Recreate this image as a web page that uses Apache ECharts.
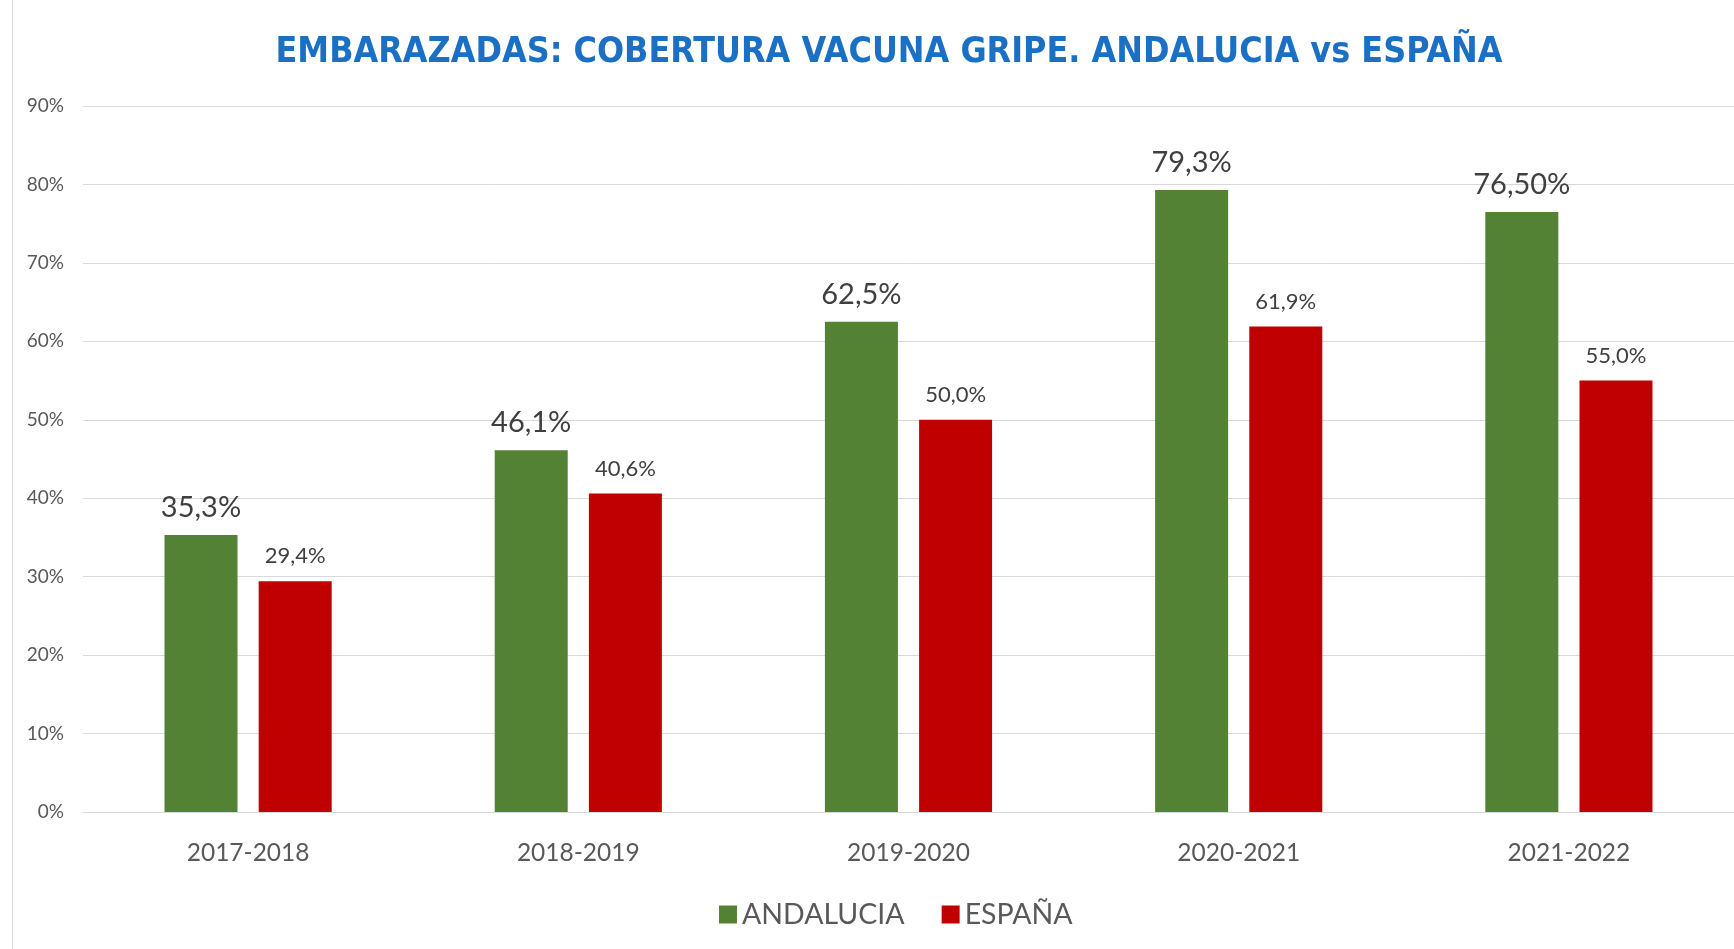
<!DOCTYPE html>
<html>
<head>
<meta charset="utf-8">
<script src="https://cdn.jsdelivr.net/npm/echarts@6/dist/echarts.min.js"></script>
<style>
  html, body { margin: 0; padding: 0; background: #fff; }
  #main { width: 1734px; height: 949px; }
</style>
</head>
<body>
<div id="main"></div>
<script>
  // temporadas
  const seasons = ['2017-2018', '2018-2019', '2019-2020', '2020-2021', '2021-2022'];
  // cobertura (%)
  const andalucia = [35.3, 46.1, 62.5, 79.3, 76.5];
  const espana = [29.4, 40.6, 50.0, 61.9, 55.0];
  // etiquetas tal como aparecen
  const andaluciaLabels = ['35,3%', '46,1%', '62,5%', '79,3%', '76,50%'];
  const espanaLabels = ['29,4%', '40,6%', '50,0%', '61,9%', '55,0%'];
  const yTicks = [0, 10, 20, 30, 40, 50, 60, 70, 80, 90];

  const font = 'Lato, "Open Sans", sans-serif';
  let myChart = echarts.init(document.getElementById('main'));
  let option = {
    animation: false,
    title: {
      text: 'EMBARAZADAS: COBERTURA VACUNA GRIPE. ANDALUCIA vs ESPAÑA',
      left: 884,
      textAlign: 'center',
      top: 30,
      textStyle: {
        fontFamily: '"DejaVu Sans Condensed", "Open Sans", sans-serif',
        fontWeight: 'bold',
        fontSize: 35.5,
        color: '#1B70C4'
      }
    },
    legend: {
      data: ['ANDALUCIA', 'ESPAÑA'],
      left: 714,
      top: 895,
      itemWidth: 18,
      itemHeight: 18,
      itemGap: 37,
      icon: 'rect',
      textStyle: { fontFamily: font, fontSize: 28.5, color: '#595959' }
    },
    grid: { left: 83, top: 106, width: 1659, height: 706 },
    graphic: [{
      type: 'line',
      shape: { x1: 12.5, y1: 0, x2: 12.5, y2: 949 },
      style: { stroke: '#d9d9d9', lineWidth: 1 }
    }],
    xAxis: {
      type: 'category',
      data: seasons,
      axisTick: { show: false },
      axisLine: { lineStyle: { color: '#d9d9d9' } },
      axisLabel: { fontFamily: font, fontSize: 24.5, color: '#595959', margin: 29 }
    },
    yAxis: {
      type: 'value',
      min: yTicks[0],
      max: yTicks[yTicks.length - 1],
      interval: 10,
      axisLabel: {
        fontFamily: font, fontSize: 19, color: '#595959', margin: 19,
        formatter: v => v + '%'
      },
      splitLine: { lineStyle: { color: '#d9d9d9' } }
    },
    series: [
      {
        name: 'ANDALUCIA',
        type: 'bar',
        data: andalucia,
        barWidth: 73,
        barGap: '29%',
        itemStyle: { color: '#548235' },
        label: {
          show: true, position: 'top', distance: 13,
          fontFamily: font, fontSize: 29, color: '#404040',
          formatter: p => andaluciaLabels[p.dataIndex]
        }
      },
      {
        name: 'ESPAÑA',
        type: 'bar',
        data: espana,
        barWidth: 73,
        itemStyle: { color: '#C00000' },
        label: {
          show: true, position: 'top', distance: 14,
          fontFamily: font, fontSize: 22, color: '#404040',
          formatter: p => espanaLabels[p.dataIndex]
        }
      }
    ]
  };
  myChart.setOption(option);
</script>
</body>
</html>
